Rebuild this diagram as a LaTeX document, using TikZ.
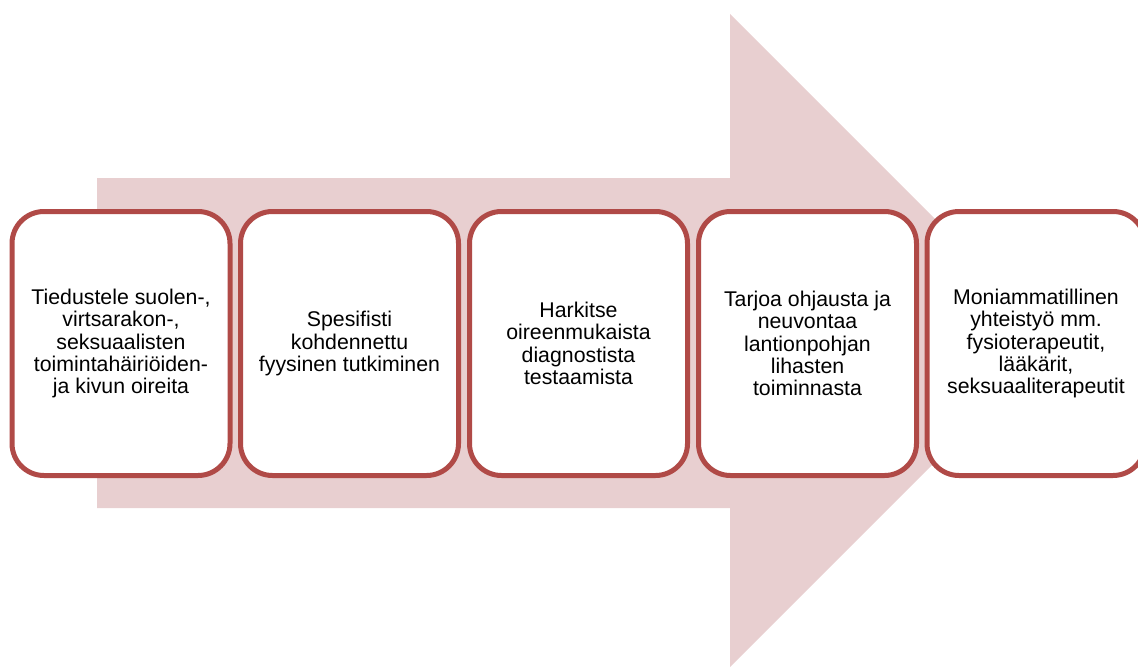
\documentclass[tikz,border=0pt]{standalone}
\usepackage{fontspec}
\setmainfont{Liberation Sans}
\definecolor{arrowfill}{RGB}{232,207,208}
\definecolor{boxline}{RGB}{176,74,71}
\begin{document}
\begin{tikzpicture}[x=1pt,y=-1pt,
  stepbox/.style={draw=boxline, line width=5pt, fill=white, rounded corners=32pt,
    minimum width=218pt, minimum height=264pt, align=center, inner sep=0pt,
    font=\fontsize{21.3}{22.4}\selectfont}]
\useasboundingbox (0,0) rectangle (1138,669);
\clip (0,0) rectangle (1138,669);
\fill[arrowfill] (97,178) -- (730,178) -- (730,14) -- (1056.5,340.5) -- (730,667) -- (730,508) -- (97,508) -- cycle;
\node[stepbox] (b1) at (121,343.5) {Tiedustele suolen-,\\virtsarakon-,\\seksuaalisten\\toimintahäiriöiden-\\ja kivun oireita};
\node[stepbox] (b2) at (349.5,343.5) {Spesifisti\\kohdennettu\\fyysinen tutkiminen};
\node[stepbox] (b3) at (578.5,343.5) {Harkitse\\oireenmukaista\\diagnostista\\testaamista};
\node[stepbox] (b4) at (807.5,343.5) {Tarjoa ohjausta ja\\neuvontaa\\lantionpohjan\\lihasten\\toiminnasta};
\node[stepbox] (b5) at (1036,343.5) {Moniammatillinen\\yhteistyö mm.\\fysioterapeutit,\\lääkärit,\\seksuaaliterapeutit};
\end{tikzpicture}
\end{document}
